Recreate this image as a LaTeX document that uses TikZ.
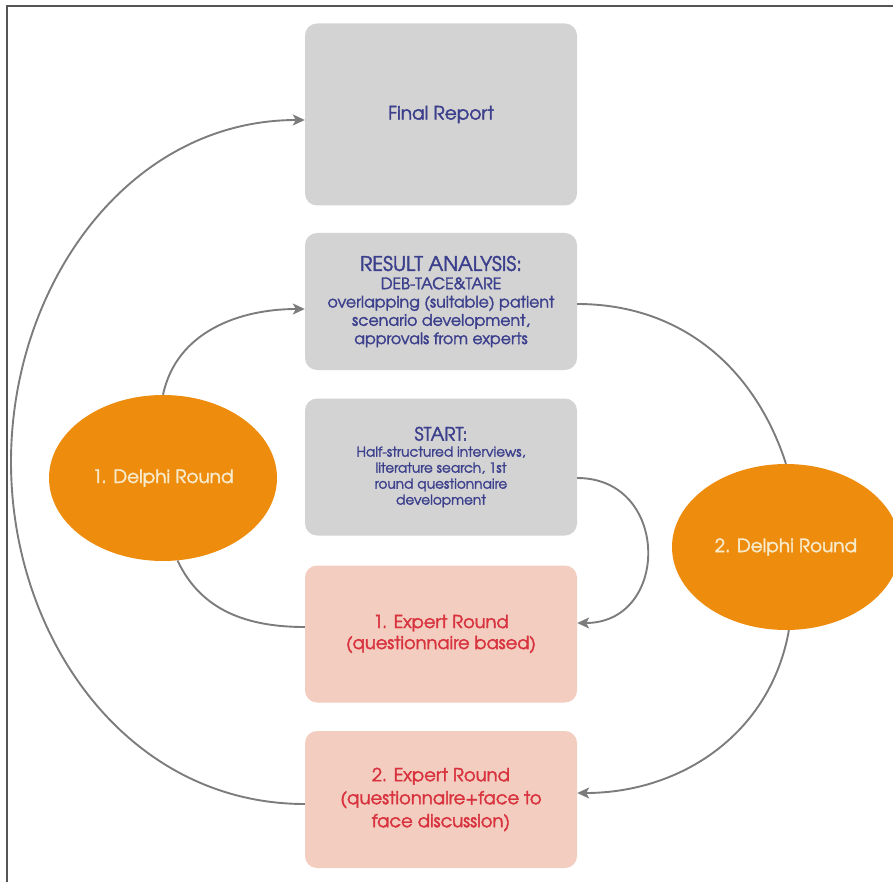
\documentclass[tikz,border=0pt]{standalone}
\usepackage{fontspec}
\setmainfont{texgyreadventor}[Extension=.otf, UprightFont=*-regular, BoldFont=*-bold, ItalicFont=*-italic, BoldItalicFont=*-bolditalic, FakeBold=2]
\usetikzlibrary{arrows.meta,shapes.geometric,calc}
\definecolor{boxgray}{HTML}{D3D3D3}
\definecolor{boxpink}{HTML}{F3CDBF}
\definecolor{delphi}{HTML}{EE8C0E}
\definecolor{navy}{HTML}{3B3F8C}
\definecolor{redtxt}{HTML}{D8323E}
\definecolor{cream}{HTML}{F7EBCB}
\definecolor{conn}{HTML}{7C7C7C}
\definecolor{framecol}{HTML}{555555}
\begin{document}
\begin{tikzpicture}[x=1pt,y=1pt,
 graybox/.style={rectangle, rounded corners=12pt, fill=boxgray, minimum width=272pt, minimum height=137pt, inner sep=0pt, text=navy, align=center},
 pinkbox/.style={rectangle, rounded corners=12pt, fill=boxpink, minimum width=272pt, minimum height=137pt, inner sep=0pt, text=redtxt, align=center},
 delphinode/.style={ellipse, fill=delphi, text=cream, inner sep=0pt, minimum width=228pt, minimum height=166pt, font=\fontsize{18.4}{22}\selectfont},
 link/.style={draw=conn, line width=1.9pt},
 arrowlink/.style={link, -{Stealth[length=12pt,width=11pt,inset=3pt]}}
]
\useasboundingbox (0,0) rectangle (893,-882);
\draw[framecol, line width=1.5pt] (7,-882) -- (7,-6) -- (893,-6);

\node[graybox, minimum height=182pt, font=\fontsize{18.5}{22}\selectfont] (fin) at (441,-114.5) {Final Report};
\node[graybox, font=\fontsize{15.8}{18.3}\selectfont] (ra) at (441,-301.5) {{\fontsize{20}{22}\selectfont RESULT ANALYSIS:}\\DEB-TACE\&TARE\\overlapping (suitable) patient\\scenario development,\\approvals from experts};
\node[graybox, font=\fontsize{13.7}{16}\selectfont] (st) at (441,-467) {{\fontsize{18.5}{20}\selectfont START:}\\Half-structured interviews,\\literature search, 1st\\round questionnaire\\development};
\node[pinkbox, font=\fontsize{17.8}{21}\selectfont] (e1x) at (441,-634) {1. Expert Round\\(questionnaire based)};
\node[pinkbox, font=\fontsize{18}{23}\selectfont] (e2x) at (441,-799.5) {2. Expert Round\\(questionnaire+face to\\face discussion)};
\node[delphinode] (d1) at (163,-478) {1. Delphi Round};
\node[delphinode] (d2) at (786,-547) {2. Delphi Round};

\coordinate (arcleft) at (11,-462);

\draw[arrowlink] (d1.north) to[out=78,in=180] ($(ra.west)+(0,-7.5)$);
\draw[link] (d1.-80) to[out=-65,in=180] ($(e1x.west)+(0,7)$);
\draw[arrowlink] ($(st.east)+(0,-11)$) to[out=0,in=0,looseness=1.65] ($(e1x.east)+(0,11)$);
\draw[link] ($(ra.east)+(0,-2.5)$) to[out=0,in=108] (d2.north);
\draw[arrowlink] (d2.-88) to[out=-100,in=0] ($(e2x.east)+(0,6.5)$);
\draw[arrowlink] ($(e2x.west)+(0,-4.5)$) to[out=180,in=-90] (arcleft) to[out=90,in=180] ($(fin.west)+(0,-5.5)$);
\end{tikzpicture}
\end{document}
